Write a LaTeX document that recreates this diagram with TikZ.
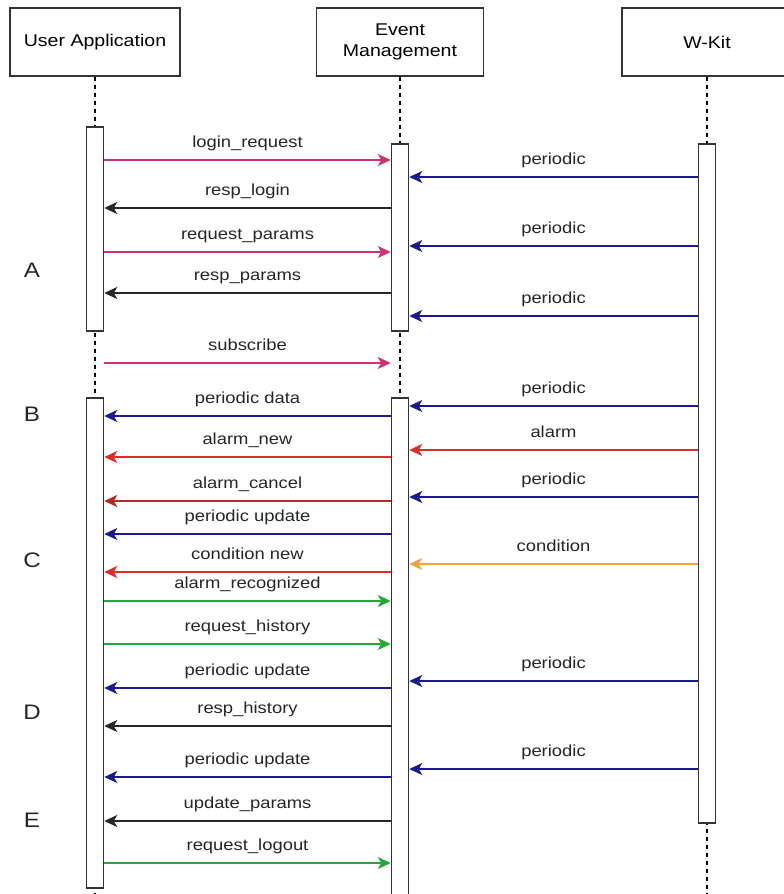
\documentclass[tikz,border=0pt]{standalone}
\usepackage{fontspec}
\setmainfont[FakeStretch=1.15]{Liberation Sans}
\usetikzlibrary{arrows.meta}

\definecolor{msgpink}{RGB}{204,51,119}
\definecolor{msgnavy}{RGB}{26,26,140}
\definecolor{msgred}{RGB}{220,45,45}
\definecolor{msgorange}{RGB}{240,165,60}
\definecolor{msggreen}{RGB}{40,165,60}

\tikzset{
  actor/.style={draw=black!80,line width=1.3pt,minimum width=170pt,minimum height=68pt,align=center,font=\fontsize{17}{21}\selectfont},
  bar/.style={draw=black!80,fill=white,line width=1.5pt,minimum width=17pt,inner sep=0pt,anchor=north},
  life/.style={dash pattern=on 4pt off 4pt,line width=1.5pt},
  msg/.style={line width=1.5pt,-{Stealth[length=13pt,width=12pt,inset=3.5pt]}},
  lbl/.style={midway,above=8pt,inner sep=0pt,text height=12pt,text depth=3.5pt,text=black!85,font=\fontsize{16}{19}\selectfont},
  sect/.style={font=\fontsize{21}{24}\selectfont,text=black!85}
}

\begin{document}
\begin{tikzpicture}[x=1pt,y=-1pt]
\useasboundingbox (0,0) rectangle (784,894);
% actors
\node[actor] (ua) at (95,42) {User Application};
\node[actor,minimum width=167pt] (em) at (400,42) {Event\\Management};
\node[actor] (wk) at (707,42) {W-Kit};
% lifelines
\draw[life] (ua.south) -- (ua.south |- 0,894);
\draw[life] (em.south) -- (em.south |- 0,894);
\draw[life] (wk.south) -- (wk.south |- 0,894);
% activation bars
\node[bar,minimum height=204pt] (ua1) at (95,126) {};
\node[bar,minimum height=187pt] (em1) at (400,143) {};
\node[bar,minimum height=679pt] (wk1) at (707,143) {};
\node[bar,minimum height=490pt] (ua2) at (95,397) {};
\node[bar,minimum height=500pt] (em2) at (400,397) {};
% phases
\node[sect] (secA) at (32,270) {A};
\node[sect] (secB) at (32,414) {B};
\node[sect] (secC) at (32,560) {C};
\node[sect] (secD) at (32,712) {D};
\node[sect] (secE) at (32,820) {E};
% login
\draw[msg,msgpink] (ua1.east |- 0,160) -- (em1.west |- 0,160) node[lbl]{login\_request};
\draw[msg,msgnavy] (wk1.west |- 0,177) -- (em1.east |- 0,177) node[lbl]{periodic};
\draw[msg,black!85] (em1.west |- 0,208) -- (ua1.east |- 0,208) node[lbl]{resp\_login};
\draw[msg,msgnavy] (wk1.west |- 0,246) -- (em1.east |- 0,246) node[lbl]{periodic};
\draw[msg,msgpink] (ua1.east |- 0,252) -- (em1.west |- 0,252) node[lbl]{request\_params};
\draw[msg,black!85] (em1.west |- 0,293) -- (ua1.east |- 0,293) node[lbl]{resp\_params};
\draw[msg,msgnavy] (wk1.west |- 0,316) -- (em1.east |- 0,316) node[lbl]{periodic};
\draw[msg,msgpink] (ua1.east |- 0,363) -- (em1.west |- 0,363) node[lbl]{subscribe};
% events
\draw[msg,msgnavy] (wk1.west |- 0,406) -- (em2.east |- 0,406) node[lbl]{periodic};
\draw[msg,msgnavy] (em2.west |- 0,416) -- (ua2.east |- 0,416) node[lbl]{periodic data};
\draw[msg,msgred] (wk1.west |- 0,450) -- (em2.east |- 0,450) node[lbl]{alarm};
\draw[msg,msgred] (em2.west |- 0,457) -- (ua2.east |- 0,457) node[lbl]{alarm\_new};
\draw[msg,msgnavy] (wk1.west |- 0,497) -- (em2.east |- 0,497) node[lbl]{periodic};
\draw[msg,msgred!85!black] (em2.west |- 0,501) -- (ua2.east |- 0,501) node[lbl]{alarm\_cancel};
\draw[msg,msgnavy] (em2.west |- 0,534) -- (ua2.east |- 0,534) node[lbl]{periodic update};
\draw[msg,msgorange] (wk1.west |- 0,564) -- (em2.east |- 0,564) node[lbl]{condition};
\draw[msg,msgred] (em2.west |- 0,572) -- (ua2.east |- 0,572) node[lbl]{condition new};
\draw[msg,msggreen] (ua2.east |- 0,601) -- (em2.west |- 0,601) node[lbl]{alarm\_recognized};
\draw[msg,msggreen] (ua2.east |- 0,644) -- (em2.west |- 0,644) node[lbl]{request\_history};
\draw[msg,msgnavy] (wk1.west |- 0,681) -- (em2.east |- 0,681) node[lbl]{periodic};
\draw[msg,msgnavy] (em2.west |- 0,688) -- (ua2.east |- 0,688) node[lbl]{periodic update};
\draw[msg,black!85] (em2.west |- 0,726) -- (ua2.east |- 0,726) node[lbl]{resp\_history};
\draw[msg,msgnavy] (wk1.west |- 0,769) -- (em2.east |- 0,769) node[lbl]{periodic};
\draw[msg,msgnavy] (em2.west |- 0,777) -- (ua2.east |- 0,777) node[lbl]{periodic update};
\draw[msg,black!85] (em2.west |- 0,821) -- (ua2.east |- 0,821) node[lbl]{update\_params};
\draw[msg,msggreen] (ua2.east |- 0,863) -- (em2.west |- 0,863) node[lbl]{request\_logout};
\end{tikzpicture}
\end{document}
